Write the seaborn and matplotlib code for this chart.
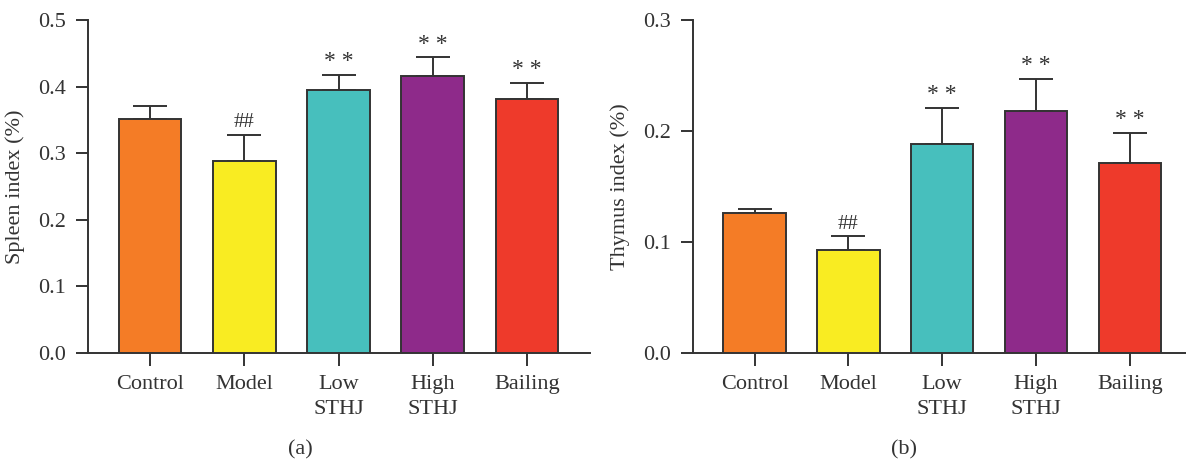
import numpy as np
import pandas as pd
import matplotlib
matplotlib.use("Agg")
import matplotlib.pyplot as plt
import seaborn as sns

# Groups and measurements
groups = ["Control", "Model", "Low\nSTHJ", "High\nSTHJ", "Bailing"]
spleen_mean = [0.352, 0.289, 0.395, 0.416, 0.381]
spleen_sd = [0.019, 0.039, 0.023, 0.028, 0.024]
thymus_mean = [0.126, 0.093, 0.188, 0.218, 0.171]
thymus_sd = [0.004, 0.012, 0.033, 0.029, 0.027]
marks = ["", "##", "* *", "* *", "* *"]
bar_colors = ["#F47C26", "#F9EC22", "#47BFBD", "#8E2A8A", "#EE3A2B"]

sns.set_style("ticks")
plt.rcParams["font.family"] = ["Liberation Serif", "DejaVu Serif"]

ink = "#333333"
fig = plt.figure(figsize=(11.86, 4.63), dpi=100)
ax_a = fig.add_axes([0.0742, 0.2376, 0.4233, 0.7192])
ax_b = fig.add_axes([0.5841, 0.2376, 0.4159, 0.7192])


def draw_panel(ax, means, sds, ymax, yticks, ylabel, xmax):
    df = pd.DataFrame({"group": groups, "value": means})
    sns.barplot(data=df, x="group", y="value", hue="group", palette=bar_colors,
                order=groups, hue_order=groups, legend=False, width=0.665,
                saturation=1, edgecolor=ink, linewidth=1.4, ax=ax, zorder=3)
    x = np.arange(len(groups))
    ax.errorbar(x, means, yerr=[np.zeros(len(sds)), sds], fmt="none",
                ecolor=ink, elinewidth=1.4, capsize=12, capthick=1.4, zorder=2)
    for xi, m, s, t in zip(x, means, sds, marks):
        if t:
            size = 15 if t.startswith("#") else 17
            ax.annotate(t, (xi, m + s), xytext=(0, 2), textcoords="offset points",
                        ha="center", va="bottom", fontsize=size, color=ink)
    ax.set_xlim(-0.66, xmax)
    ax.set_ylim(0, ymax)
    ax.set_yticks(yticks)
    ax.set_yticklabels([f"{v:.1f}" for v in yticks])
    ax.set_xlabel("")
    ax.set_ylabel(ylabel, fontsize=16, color=ink, labelpad=9)
    for side in ("top", "right"):
        ax.spines[side].set_visible(False)
    for side in ("left", "bottom"):
        ax.spines[side].set_color(ink)
        ax.spines[side].set_linewidth(1.4)
    ax.tick_params(axis="both", direction="out", length=9, width=1.4,
                   color=ink, labelcolor=ink, labelsize=16, pad=7)
    for lab in ax.get_xticklabels():
        lab.set_linespacing(1.4)


draw_panel(ax_a, spleen_mean, spleen_sd, 0.5, [0.0, 0.1, 0.2, 0.3, 0.4, 0.5],
           "Spleen index (%)", 4.67)
draw_panel(ax_b, thymus_mean, thymus_sd, 0.3, [0.0, 0.1, 0.2, 0.3],
           "Thymus index (%)", 4.6)

fig.text(0.253, 0.028, "(a)", ha="center", va="center", fontsize=16, color=ink)
fig.text(0.762, 0.028, "(b)", ha="center", va="center", fontsize=16, color=ink)

fig.savefig("out.png", dpi=100, facecolor="white")
